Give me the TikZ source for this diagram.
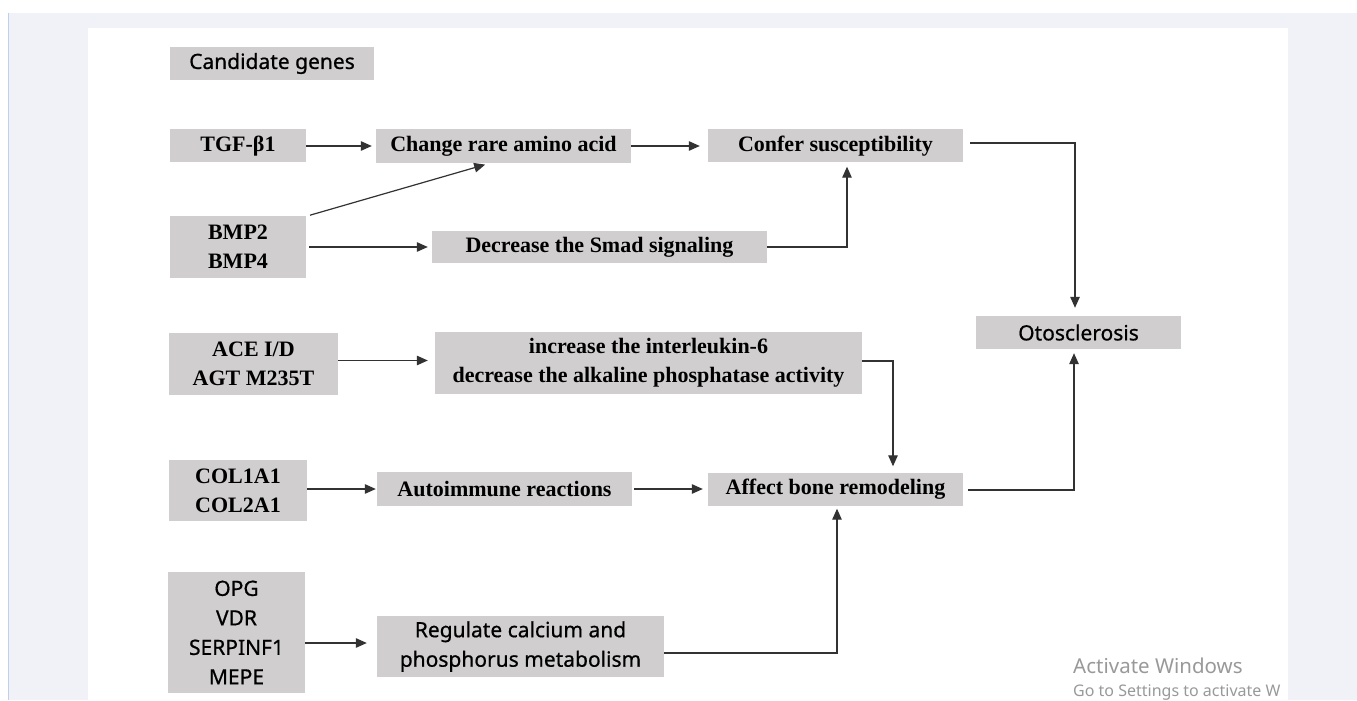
\documentclass[tikz,border=0pt]{standalone}
\usepackage{fontspec}
\setmainfont{Liberation Serif}
\setsansfont{Noto Sans}[FakeBold=0.7]
\newfontfamily\winfont{Noto Sans}
\usepackage{tikz}
\usetikzlibrary{positioning,calc}
\usetikzlibrary{arrows.meta}
\definecolor{boxgray}{RGB}{208,206,207}
\definecolor{pagegray}{RGB}{240,242,247}
\definecolor{edgeblue}{RGB}{190,208,235}
\definecolor{linegray}{RGB}{50,50,50}
\tikzstyle{arrow} = [line width=1.2pt,draw=linegray,-{Triangle[length=11pt,width=9.5pt]}]

\begin{document}
\begin{tikzpicture}[x=1pt, y=-1pt,
	gene/.style={fill=boxgray, inner sep=0pt, align=center, font=\fontsize{22}{29}\selectfont\bfseries},
	genesans/.style={fill=boxgray, inner sep=0pt, align=center, font=\sffamily\fontsize{21}{29.5}\selectfont},
	boxsize/.style 2 args={minimum width=#1pt, minimum height=#2pt}]
	
	% BACKGROUND
	
	\fill[pagegray] (0,0) rectangle (1357,700);
	\fill[white] (0,0) rectangle (1357,13);
	\fill[white] (0,0) rectangle (8,700);
	\draw[edgeblue, line width=1pt] (8,13) -- (8,700);
	\fill[white] (88,28) rectangle (1288,700);
	\useasboundingbox (0,0) rectangle (1357,700);
	
	% GENES
	
	\node[genesans, boxsize={204}{33}] (candidates) at (272,63.5) {Candidate genes};
	\node[gene, boxsize={136}{33}] (tgf) at (238,146) {TGF-β1};
	\node[gene, boxsize={136}{61}] (bmp) at (238,247) {BMP2\\BMP4};
	\node[gene, boxsize={169}{62}] (ace) at (253.5,364) {ACE I/D\\AGT M235T};
	\node[gene, boxsize={138}{61}] (col) at (238,490.5) {COL1A1\\COL2A1};
	\node[genesans, boxsize={137}{121}] (opg) at (236.5,632.5) {OPG\\VDR\\SERPINF1\\MEPE};
	
	% EFFECTS
	
	\node[gene, boxsize={255}{34}] (aminoacid) at (503.5,146) {Change rare amino acid};
	\node[gene, boxsize={335}{32}] (smad) at (599.5,247) {Decrease the Smad signaling};
	\node[gene, boxsize={427}{62}] (interleukin) at (648.5,363) {increase the interleukin-6\\decrease the alkaline phosphatase activity};
	\node[gene, boxsize={255}{34}] (autoimmune) at (504.5,489) {Autoimmune reactions};
	\node[genesans, boxsize={287}{61}] (calcium) at (520.5,646.5) {Regulate calcium and\\phosphorus metabolism};
	\node[gene, boxsize={255}{33}] (susceptibility) at (835.5,146) {Confer susceptibility};
	\node[gene, boxsize={255}{33}] (remodeling) at (835.5,489) {Affect bone remodeling};
	\node[genesans, boxsize={205}{33}] (otosclerosis) at (1078.5,332.5) {Otosclerosis};
	
	% ARROWS
	
	\draw[arrow, shorten >=4pt] (tgf) -- (aminoacid);
	\draw[arrow, shorten <=4pt, shorten >=5pt] (bmp.north east) -- ([xshift=-13.5pt]aminoacid.south);
	\draw[arrow, shorten <=3pt, shorten >=4pt] (bmp) -- (smad);
	\draw[arrow, shorten >=8pt] (aminoacid) -- (susceptibility);
	\draw[arrow, shorten >=4pt] (smad.east) -| ([xshift=11.5pt]susceptibility.south);
	\draw[arrow, shorten >=7pt] ([yshift=3.5pt]ace.east) -- ([yshift=3.5pt]ace.east -| interleukin.west);
	\draw[arrow, shorten >=6pt] ([yshift=2pt]interleukin.east) -| ([xshift=57.5pt]remodeling.north);
	\draw[arrow, shorten >=1pt] (col.east |- autoimmune) -- (autoimmune.west);
	\draw[arrow, shorten <=2pt, shorten >=5pt] (autoimmune) -- (remodeling);
	\draw[arrow, shorten >=10pt] ([yshift=-10.5pt]opg.east) -- ([yshift=-10.5pt]opg.east -| calcium.west);
	\draw[arrow, shorten >=3pt] ([yshift=-6.5pt]calcium.east) -| ([xshift=1.5pt]remodeling.south);
	\draw[arrow, shorten <=7pt, shorten >=8pt] ([yshift=3pt]susceptibility.east) -| ([xshift=-3.5pt]otosclerosis.north);
	\draw[arrow, shorten <=5pt, shorten >=4pt] ([yshift=-1pt]remodeling.east) -| ([xshift=-4.5pt]otosclerosis.south);
	
	% WATERMARK
	
	\node[anchor=base west, inner sep=0pt, text=black!40, font=\winfont\fontsize{20.5}{24}\selectfont] (activate) at (1073,673) {Activate Windows};
	\node[anchor=base west, inner sep=0pt, text=black!40, font=\winfont\fontsize{16}{19}\selectfont] (settings) at (1073,696) {Go to Settings to activate W};
	
\end{tikzpicture}
\end{document}
